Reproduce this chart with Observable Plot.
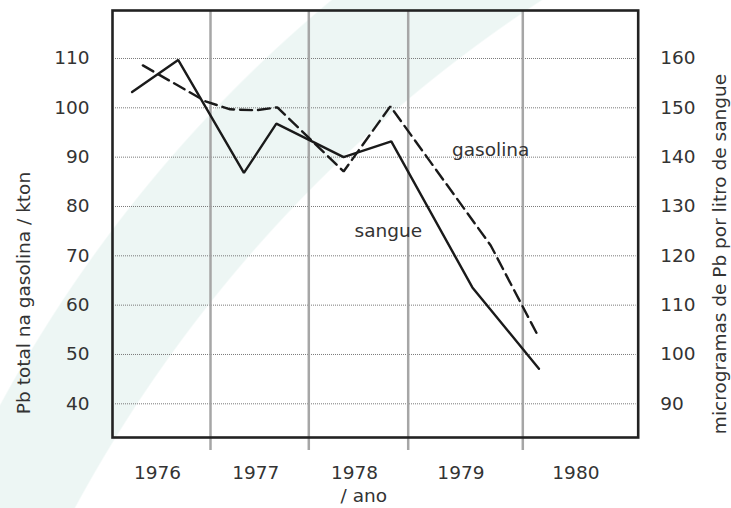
<!DOCTYPE html>
<html><head><meta charset="utf-8">
<script src="https://cdn.jsdelivr.net/npm/d3@7"></script>
<script src="https://cdn.jsdelivr.net/npm/@observablehq/plot@0.6"></script>
<style>
html,body{margin:0;padding:0;background:#fff;}
#chart{width:731px;height:508px;position:relative;overflow:hidden;
background:
 radial-gradient(circle 1404px at 1310px 1175px, #fff 1403px, rgba(255,255,255,0) 1404.5px),
 radial-gradient(circle 1376px at 1211px 1058px, #edf6f4 1375px, #fff 1376.5px);
}
</style></head><body><div id="chart"></div>
<script>
// ---- data ----
const years = [1976, 1977, 1978, 1979, 1980];
const yearBounds = [1976, 1977, 1978, 1979, 1980, 1981];
const leftTicks = [40, 50, 60, 70, 80, 90, 100, 110];      // kton
const rightTicks = [90, 100, 110, 120, 130, 140, 150, 160]; // µg/L
const axisOffset = 50; // right axis value = left axis value + 50

// gasolina (dashed, left axis, kton)
const gasolinaX    = [1976.31, 1976.95, 1977.20, 1977.46, 1977.68, 1978.35, 1978.82, 1979.72, 1980.12];
const gasolinaKton = [108.6,   101.3,   99.7,    99.5,    100.1,   87.1,    100.3,   72.1,    54.3];

// sangue (solid, right axis, µg Pb / L)
const sangueX  = [1976.20, 1976.67, 1977.34, 1977.67, 1978.35, 1978.83, 1979.56, 1980.14];
const sangueUg = [153.2,   159.7,   136.8,   146.8,   140.0,   143.2,   113.6,   97.1];

const seriesNames = ["gasolina", "sangue"];
const seriesLabelX = [1979.72, 1978.80];
const seriesLabelY = [91.5, 75.1];

// ---- derived tables ----
const gasolina = gasolinaX.map((x, i) => ({x, y: gasolinaKton[i]}));
const sangue = sangueX.map((x, i) => ({x, y: sangueUg[i] - axisOffset}));
const seriesLabels = seriesNames.map((t, i) => ({t, x: seriesLabelX[i], y: seriesLabelY[i]}));

const chart = Plot.plot({
  width: 731, height: 508,
  marginLeft: 112, marginRight: 93.3, marginTop: 10, marginBottom: 71,
  style: {background: "transparent", fontFamily: "'DejaVu Sans', Verdana, sans-serif", fontSize: "18.5px", color: "#333", overflow: "visible"},
  x: {type: "linear", domain: yearBounds, range: [112, 210, 308.3, 407.7, 522.3, 637.7], axis: null},
  y: {domain: [33.17, 119.73], axis: null},
  marks: [
    Plot.ruleY(leftTicks, {stroke: "#7a7a7a", strokeWidth: 1, strokeDasharray: "1,1", insetLeft: 3, insetRight: 2}),
    Plot.ruleX(yearBounds.slice(1, 5), {stroke: "#a6a6a6", strokeWidth: 2.5, insetBottom: -13}),
    Plot.line(gasolina, {x: "x", y: "y", stroke: "#1a1a1a", strokeWidth: 2.4, strokeDasharray: "12,6", strokeLinejoin: "miter"}),
    Plot.line(sangue, {x: "x", y: "y", stroke: "#1a1a1a", strokeWidth: 2.4, strokeLinejoin: "miter"}),
    Plot.frame({stroke: "#222", strokeWidth: 2.6}),
    Plot.axisY(leftTicks, {anchor: "left", tickSize: 0, tickPadding: 23, label: null}),
    Plot.axisY(rightTicks.map(v => v - axisOffset), {anchor: "right", tickSize: 0, tickPadding: 22, tickFormat: d => d + axisOffset, label: null}),
    Plot.text(years, {x: d => d + 0.46, frameAnchor: "bottom", textAnchor: "middle", lineAnchor: "middle", dy: 36, text: d => String(d)}),
    Plot.text(["/ ano"], {frameAnchor: "bottom", textAnchor: "middle", lineAnchor: "middle", dx: -11.5, dy: 59, text: d => d}),
    Plot.text(["Pb total na gasolina / kton"], {frameAnchor: "left", textAnchor: "middle", lineAnchor: "middle", rotate: -90, dx: -88, dy: 69, text: d => d}),
    Plot.text(["microgramas de Pb por litro de sangue"], {frameAnchor: "right", textAnchor: "middle", lineAnchor: "middle", rotate: -90, dx: 82.3, dy: 30, text: d => d}),
    Plot.text(seriesLabels, {x: "x", y: "y", text: "t", textAnchor: "middle", lineAnchor: "middle"})
  ]
});
document.getElementById("chart").appendChild(chart);
</script></body></html>
